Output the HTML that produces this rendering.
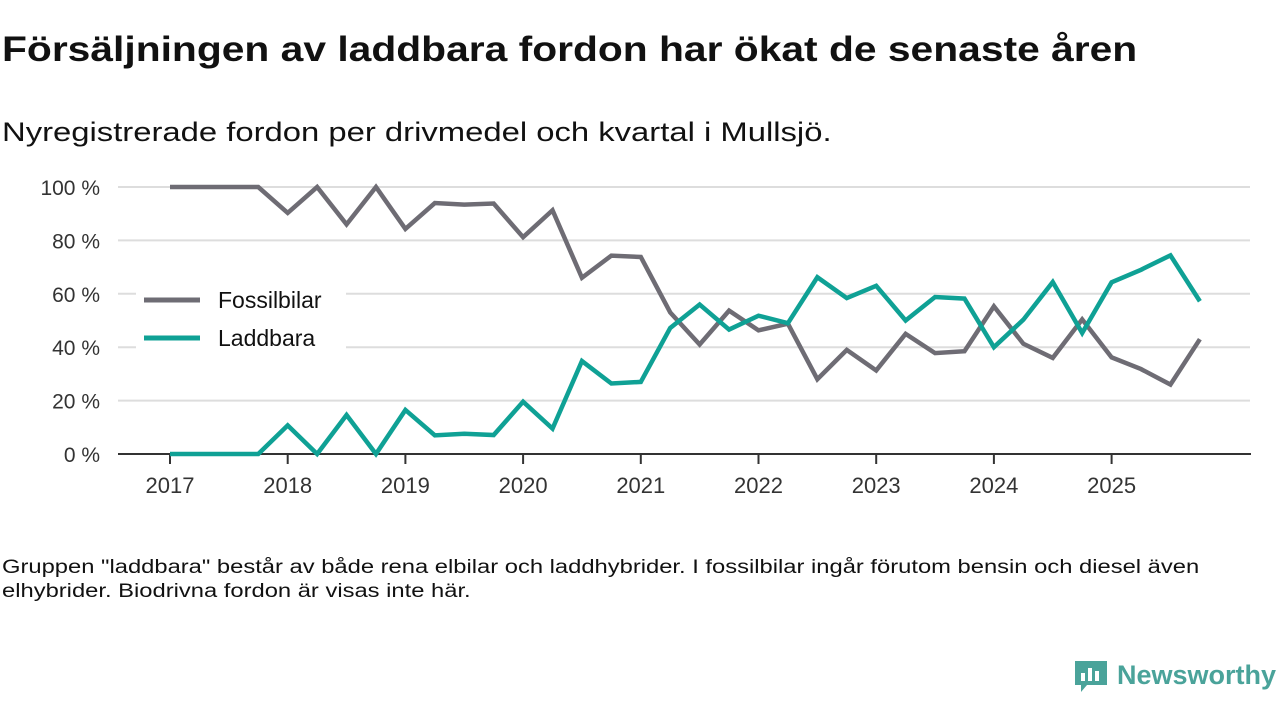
<!DOCTYPE html>
<html><head><meta charset="utf-8">
<style>
body{margin:0;width:1280px;height:720px;background:#fff;font-family:"Liberation Sans","DejaVu Sans",sans-serif;color:#111;overflow:hidden;position:relative}
.t{position:absolute;left:2px;top:30px;font-size:35px;font-weight:bold;margin:0;white-space:nowrap;transform:scaleX(1.165);transform-origin:left}
.s{position:absolute;left:2px;top:117px;font-size:27px;white-space:nowrap;transform:scaleX(1.215);transform-origin:left}
.f{position:absolute;left:2px;top:556px;font-size:19px;line-height:24px;white-space:nowrap;transform:scaleX(1.25);transform-origin:left}
svg{position:absolute;left:0;top:0}
</style></head><body>
<h1 class="t">Försäljningen av laddbara fordon har ökat de senaste åren</h1>
<div class="s">Nyregistrerade fordon per drivmedel och kvartal i Mullsjö.</div>
<svg id="c" width="1280" height="720"></svg>
<div class="f">Gruppen "laddbara" består av både rena elbilar och laddhybrider. I fossilbilar ingår förutom bensin och diesel även<br>elhybrider. Biodrivna fordon är visas inte här.</div>
<div style="position:absolute;left:1073px;top:657px;height:36px;display:flex;align-items:center">
<svg width="36" height="36" style="position:static"><path d="M2 4h32v24H14l-6 7v-7H2z" fill="#4aa39a"/><rect x="8" y="16" width="4" height="8" fill="#fff"/><rect x="15" y="11" width="4" height="13" fill="#fff"/><rect x="22" y="14" width="4" height="10" fill="#fff"/></svg>
<span style="font-size:27px;color:#4aa39a;font-weight:bold;margin-left:8px">Newsworthy</span></div>
<script>
const years=["2017","2018","2019","2020","2021","2022","2023","2024","2025"];
const yTicks=[0,20,40,60,80,100];
const fossil=[100,100,100,100,90.3,100,86,100,84.3,94,93.4,93.8,81.2,91.3,66,74.3,73.8,53,41,53.7,46.3,48.8,28,39,31.3,45,37.8,38.5,55.3,41.3,36,50.4,36.2,31.8,26,43];
const ladd=[0,0,0,0,10.7,0,14.6,0,16.5,7,7.6,7.1,19.6,9.5,34.8,26.4,27,47.2,56,46.6,51.8,49,66.2,58.4,63,50,58.8,58.2,40,50.3,64.4,45.3,64.3,69,74.4,57.2];
const NS="http://www.w3.org/2000/svg",svg=document.getElementById('c');
const X=q=>170+q*117.7/4, Y=v=>454-v*2.67;
function mk(t,a,p){const e=document.createElementNS(NS,t);for(const k in a)e.setAttribute(k,a[k]);(p||svg).appendChild(e);return e;}
yTicks.forEach(v=>{
 if(v>0){const g=mk('line',{x1:118,x2:1250,y1:Y(v),y2:Y(v),stroke:'#ddd','stroke-width':2});
 
 }
 const t=mk('text',{x:100,y:Y(v)+8,'text-anchor':'end','font-size':21,fill:'#333'});t.textContent=v+' %';
 
 
});
const ax=mk('line',{x1:118,x2:1251,y1:454,y2:454,stroke:'#333','stroke-width':2});


years.forEach((y,i)=>{const x=X(i*4);
 mk('line',{x1:x,x2:x,y1:454,y2:464,stroke:'#333','stroke-width':2});
 const t=mk('text',{x:x,y:493,'text-anchor':'middle','font-size':22,fill:'#333'});t.textContent=y;
 
 
});
function line(d,c,n){const p=mk('polyline',{points:d.map((v,i)=>X(i)+','+Y(v)).join(' '),fill:'none',stroke:c,'stroke-width':4.5,'stroke-linejoin':'miter'});
 
 }
line(fossil,'#6e6c74','fossilbilar-line');
line(ladd,'#0fa195','laddbara-line');
const bg=mk('rect',{x:136,y:277,width:210,height:80,fill:'#fff'});


[['Fossilbilar','#6e6c74',300],['Laddbara','#0fa195',338]].forEach(([n,c,y])=>{
 mk('line',{x1:144,x2:200,y1:y,y2:y,stroke:c,'stroke-width':5});
 const t=mk('text',{x:218,y:y+8,'font-size':23,fill:'#111'});t.textContent=n;
 
 
});
</script>
</body></html>
